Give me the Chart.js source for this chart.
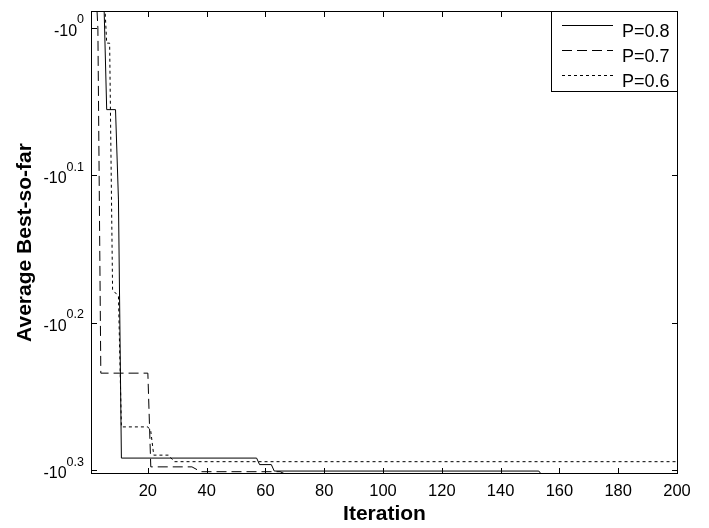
<!DOCTYPE html>
<html>
<head>
<meta charset="utf-8">
<script src="https://cdn.jsdelivr.net/npm/chart.js@4.4.0/dist/chart.umd.min.js"></script>
<style>
  body { margin: 0; background: #fff; }
  #wrap { width: 709px; height: 528px; }
</style>
</head>
<body>
<div id="wrap"><canvas id="chart"></canvas></div>
<script>
// step curves: iteration where the value changes, and the best-so-far value there
const iterP08 = [1, 5, 6, 9, 10, 11, 57, 58, 62, 63, 153, 154, 200];
const bestP08 = [-0.95, -0.95, -1.136, -1.136, -1.308, -1.957, -1.957, -1.977, -1.977, -1.997, -1.997, -2.009, -2.009];

const iterP07 = [1, 2, 3, 4, 20, 21, 35, 38, 65, 68, 200];
const bestP07 = [-0.912, -0.912, -1.0, -1.714, -1.714, -1.984, -1.984, -1.999, -1.999, -2.012, -2.012];

const iterP06 = [1, 5, 6, 7, 8, 10, 11, 20, 21, 22, 27, 29, 200];
const bestP06 = [-0.933, -0.933, -1.024, -1.024, -1.505, -1.520, -1.864, -1.864, -1.877, -1.948, -1.948, -1.968, -1.968];

const seriesLabels = ['P=0.8', 'P=0.7', 'P=0.6'];
const seriesDash = [[], [10, 5], [3, 3]];

const xTicks = [20, 40, 60, 80, 100, 120, 140, 160, 180, 200];
const yTickExp = [0, 0.1, 0.2, 0.3];
const yTickText = ['0', '0.1', '0.2', '0.3'];

const FONT = '"Liberation Sans", Arial, Helvetica, sans-serif';

// the axis is log of |y|, more negative at the bottom
function toPoints(iters, vals) {
    return iters.map((it, i) => ({ x: it, y: -vals[i] }));
}

const series = [
    toPoints(iterP08, bestP08),
    toPoints(iterP07, bestP07),
    toPoints(iterP06, bestP06)
];

const matlabFrame = {
    id: 'matlabFrame',
    afterDatasetsDraw(chart) {
        const ctx = chart.ctx;
        const a = chart.chartArea;
        const xs = chart.scales.x;
        const ys = chart.scales.y;
        ctx.save();
        ctx.strokeStyle = '#000';
        ctx.lineWidth = 1;
        ctx.setLineDash([]);
        ctx.strokeRect(a.left - 0.5, a.top - 0.5, a.right - a.left + 1, a.bottom - a.top + 1);

        // inward tick marks on all four sides
        ctx.beginPath();
        xTicks.forEach(v => {
            const px = Math.round(xs.getPixelForValue(v)) + 0.5;
            ctx.moveTo(px, a.bottom); ctx.lineTo(px, a.bottom - 5);
            ctx.moveTo(px, a.top); ctx.lineTo(px, a.top + 5);
        });
        yTickExp.forEach(e => {
            const py = Math.round(ys.getPixelForValue(Math.pow(10, e))) + 0.5;
            ctx.moveTo(a.left, py); ctx.lineTo(a.left + 5, py);
            ctx.moveTo(a.right, py); ctx.lineTo(a.right - 5, py);
        });
        ctx.stroke();

        // y tick labels like -10^{0.1}
        ctx.fillStyle = '#000';
        ctx.textBaseline = 'alphabetic';
        ctx.textAlign = 'left';
        const rightEdge = a.left - 8;
        yTickExp.forEach((e, i) => {
            const py = ys.getPixelForValue(Math.pow(10, e));
            ctx.font = '12.5px ' + FONT;
            const ws = ctx.measureText(yTickText[i]).width;
            ctx.font = '16px ' + FONT;
            const wb = ctx.measureText('-10').width;
            ctx.fillText('-10', rightEdge - ws - wb, py + 8);
            ctx.font = '12.5px ' + FONT;
            ctx.fillText(yTickText[i], rightEdge - ws, py - 4.5);
        });

        // legend box in the top right corner
        const lx = a.right - 126, ly = a.top - 1, lw = 126, lh = 80;
        ctx.fillStyle = '#fff';
        ctx.fillRect(lx, ly, lw, lh);
        ctx.strokeRect(lx + 0.5, ly + 0.5, lw, lh);
        ctx.font = '18px ' + FONT;
        ctx.fillStyle = '#000';
        seriesLabels.forEach((lab, i) => {
            const yy = ly + 14.5 + i * 25;
            ctx.beginPath();
            ctx.setLineDash(seriesDash[i]);
            ctx.moveTo(lx + 11, yy);
            ctx.lineTo(lx + 62, yy);
            ctx.stroke();
            ctx.setLineDash([]);
            ctx.fillText(lab, lx + 71, yy + 11);
        });
        ctx.restore();
    }
};

new Chart(document.getElementById('chart'), {
    type: 'line',
    data: {
        datasets: series.map((pts, i) => ({
            label: seriesLabels[i],
            data: pts,
            borderColor: '#000',
            borderWidth: 1,
            borderDash: seriesDash[i],
            pointRadius: 0,
            tension: 0,
            fill: false
        }))
    },
    options: {
        responsive: true,
        maintainAspectRatio: false,
        animation: false,
        layout: { padding: { left: 0, right: 32, top: 12, bottom: 0 } },
        plugins: { legend: { display: false }, tooltip: { enabled: false } },
        scales: {
            x: {
                type: 'linear',
                min: 1,
                max: 200,
                afterBuildTicks: s => { s.ticks = xTicks.map(v => ({ value: v })); },
                afterFit: s => { s.height = 55; },
                grid: { display: false, drawTicks: false },
                border: { display: false },
                ticks: {
                    color: '#000',
                    font: { family: FONT, size: 16.5 },
                    padding: 9,
                    maxRotation: 0,
                    autoSkip: false
                },
                title: {
                    display: true,
                    text: 'Iteration',
                    color: '#000',
                    font: { family: FONT, size: 21, weight: 'bold' },
                    padding: { top: 0, bottom: 1 }
                }
            },
            y: {
                type: 'logarithmic',
                reverse: true,
                min: Math.pow(10, -0.0108),
                max: Math.pow(10, 0.3017),
                afterBuildTicks: s => { s.ticks = yTickExp.map(e => ({ value: Math.pow(10, e) })); },
                afterFit: s => { s.width = 92; },
                grid: { display: false, drawTicks: false },
                border: { display: false },
                ticks: { display: false },
                title: {
                    display: true,
                    text: 'Average Best-so-far',
                    color: '#000',
                    font: { family: FONT, size: 21, weight: 'bold' },
                    padding: { top: 13, bottom: 0 }
                }
            }
        }
    },
    plugins: [matlabFrame]
});
</script>
</body>
</html>
